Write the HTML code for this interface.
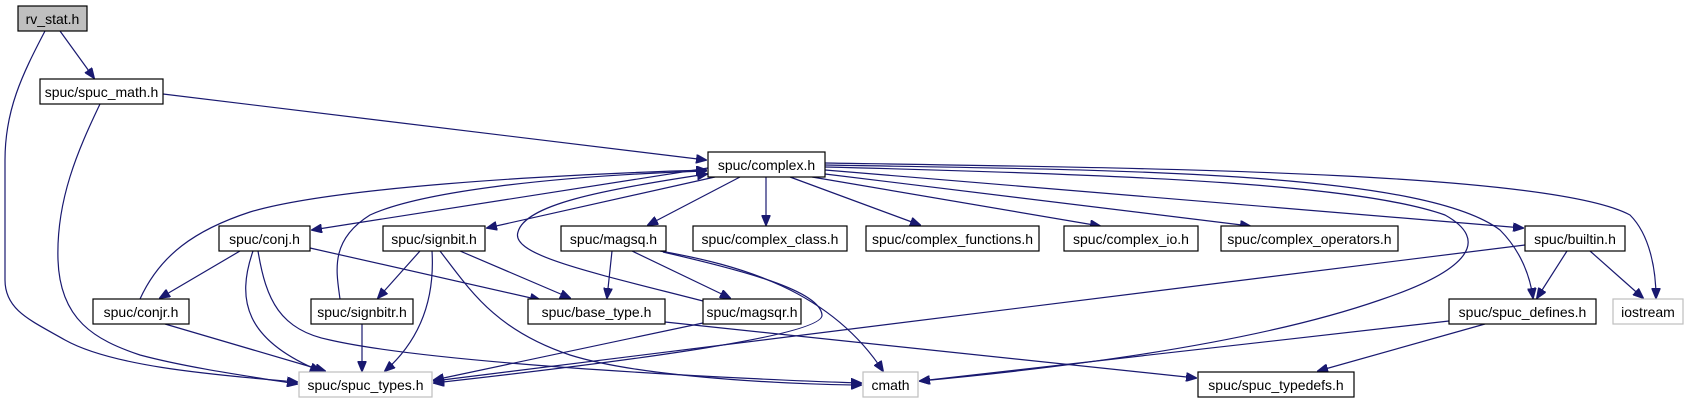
<!DOCTYPE html>
<html><head><meta charset="utf-8"><style>
html,body{margin:0;padding:0;background:#fff;}
svg{display:block;}
text{font-family:"Liberation Sans",sans-serif;font-size:14px;fill:#000;}
.e{fill:none;stroke:#191970;stroke-width:1.2;marker-end:url(#a);}
.n{fill:#fff;stroke:#000;stroke-width:1.2;}
.g{fill:#fff;stroke:#bfbfbf;stroke-width:1.2;}
</style></head><body>
<svg width="1702" height="403" viewBox="0 0 1702 403" xmlns="http://www.w3.org/2000/svg">
<defs><marker id="a" markerWidth="11" markerHeight="9" refX="10" refY="4.5" orient="auto" markerUnits="userSpaceOnUse"><path d="M0,0 L11,4.5 L0,9 z" fill="#191970" stroke="#191970"/></marker></defs>
<path class="e" d="M60,31 L94,78"/>
<path class="e" d="M45,31 C22,75 5,110 5,160 L5,280 C5,310 30,320 65,340 C110,365 200,374 297,382"/>
<path class="e" d="M100,104 C78,150 56,200 58,260 C60,320 95,340 140,355 C185,367 240,375 297,384"/>
<path class="e" d="M163,94 L706,160"/>
<path class="e" d="M708,168 L312,230"/>
<path class="e" d="M140,299 C160,255 195,230 250,212 C330,188 540,175 706,170"/>
<path class="e" d="M340,299 C336,270 330,240 370,215 C420,192 550,176 706,171"/>
<path class="e" d="M715,177 L487,228"/>
<path class="e" d="M703,301 C590,272 510,255 518,232 C525,205 600,190 707,174"/>
<path class="e" d="M740,177 L648,225"/>
<path class="e" d="M766,177 L766,225"/>
<path class="e" d="M790,177 L920,225"/>
<path class="e" d="M812,177 L1100,226"/>
<path class="e" d="M825,174 L1250,226"/>
<path class="e" d="M825,170 L1523,228"/>
<path class="e" d="M825,167 C1150,175 1360,185 1445,215 C1490,240 1470,270 1380,300 C1250,345 1060,368 920,381"/>
<path class="e" d="M825,165 C1100,170 1420,170 1500,230 C1520,250 1530,275 1533,298"/>
<path class="e" d="M825,163 C1150,168 1550,172 1630,215 C1650,235 1656,270 1656,298"/>
<path class="e" d="M1525,245 L434,381"/>
<path class="e" d="M1567,251 L1537,298"/>
<path class="e" d="M1590,251 L1643,298"/>
<path class="e" d="M1449,321 L920,381"/>
<path class="e" d="M1485,324 L1318,371"/>
<path class="e" d="M665,322 L1196,378"/>
<path class="e" d="M240,251 L160,298"/>
<path class="e" d="M253,251 C236,300 245,340 320,371"/>
<path class="e" d="M258,251 C266,300 280,330 330,340 C440,365 760,380 861,383"/>
<path class="e" d="M310,248 L540,300"/>
<path class="e" d="M420,251 L378,298"/>
<path class="e" d="M432,251 C435,300 420,340 385,371"/>
<path class="e" d="M440,251 C470,290 495,330 570,355 C650,380 820,385 861,385"/>
<path class="e" d="M460,251 L570,298"/>
<path class="e" d="M362,324 L362,371"/>
<path class="e" d="M165,324 L325,371"/>
<path class="e" d="M612,251 L607,298"/>
<path class="e" d="M632,251 L730,298"/>
<path class="e" d="M660,251 C740,265 830,290 883,371"/>
<path class="e" d="M663,252 C740,270 820,290 822,315 C824,335 640,360 434,383"/>
<path class="e" d="M703,323 L434,380"/>
<rect x="18" y="6" width="69" height="25" fill="#bfbfbf" stroke="#000" stroke-width="1.2"/><text x="52.5" y="24" text-anchor="middle">rv_stat.h</text>
<rect class="n" x="40" y="79" width="123" height="25"/><text x="101.5" y="97" text-anchor="middle">spuc/spuc_math.h</text>
<rect class="n" x="708" y="152" width="117" height="25"/><text x="766.5" y="170" text-anchor="middle">spuc/complex.h</text>
<rect class="n" x="219" y="226" width="91" height="25"/><text x="264.5" y="244" text-anchor="middle">spuc/conj.h</text>
<rect class="n" x="383" y="226" width="102" height="25"/><text x="434" y="244" text-anchor="middle">spuc/signbit.h</text>
<rect class="n" x="561" y="226" width="105" height="25"/><text x="613.5" y="244" text-anchor="middle">spuc/magsq.h</text>
<rect class="n" x="693" y="226" width="154" height="25"/><text x="770" y="244" text-anchor="middle">spuc/complex_class.h</text>
<rect class="n" x="866" y="226" width="173" height="25"/><text x="952.5" y="244" text-anchor="middle">spuc/complex_functions.h</text>
<rect class="n" x="1064" y="226" width="134" height="25"/><text x="1131" y="244" text-anchor="middle">spuc/complex_io.h</text>
<rect class="n" x="1221" y="226" width="177" height="25"/><text x="1309.5" y="244" text-anchor="middle">spuc/complex_operators.h</text>
<rect class="n" x="1525" y="226" width="100" height="25"/><text x="1575" y="244" text-anchor="middle">spuc/builtin.h</text>
<rect class="n" x="93" y="299" width="96" height="25"/><text x="141" y="317" text-anchor="middle">spuc/conjr.h</text>
<rect class="n" x="311" y="299" width="102" height="25"/><text x="362" y="317" text-anchor="middle">spuc/signbitr.h</text>
<rect class="n" x="528" y="299" width="137" height="25"/><text x="596.5" y="317" text-anchor="middle">spuc/base_type.h</text>
<rect class="n" x="703" y="299" width="98" height="25"/><text x="752" y="317" text-anchor="middle">spuc/magsqr.h</text>
<rect class="n" x="1449" y="299" width="147" height="25"/><text x="1522.5" y="317" text-anchor="middle">spuc/spuc_defines.h</text>
<rect class="g" x="1613" y="299" width="70" height="25"/><text x="1648" y="317" text-anchor="middle">iostream</text>
<rect class="g" x="299" y="372" width="133" height="25"/><text x="365.5" y="390" text-anchor="middle">spuc/spuc_types.h</text>
<rect class="g" x="863" y="372" width="55" height="25"/><text x="890.5" y="390" text-anchor="middle">cmath</text>
<rect class="n" x="1198" y="372" width="156" height="25"/><text x="1276" y="390" text-anchor="middle">spuc/spuc_typedefs.h</text>
</svg>
</body></html>
